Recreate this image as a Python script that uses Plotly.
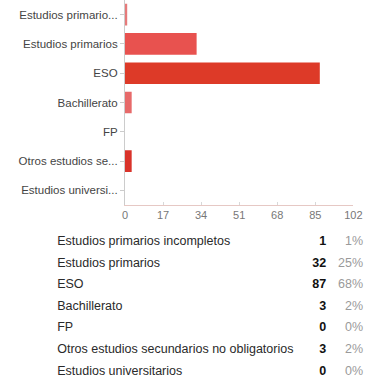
import plotly.graph_objects as go

# -----------------------------------------------------
# Data
# -----------------------------------------------------

categories = [
    "Estudios primarios incompletos",
    "Estudios primarios",
    "ESO",
    "Bachillerato",
    "FP",
    "Otros estudios secundarios no obligatorios",
    "Estudios universitarios",
]

tick_labels = [
    "Estudios primario...",
    "Estudios primarios",
    "ESO",
    "Bachillerato",
    "FP",
    "Otros estudios se...",
    "Estudios universi...",
]

counts = [1, 32, 87, 3, 0, 3, 0]
percents = ["1%", "25%", "68%", "2%", "0%", "2%", "0%"]

x_ticks = [0, 17, 34, 51, 68, 85, 102]

# -----------------------------------------------------
# Style
# -----------------------------------------------------

bar_colors = ["#e67a7a", "#e8524f", "#dd3a28", "#e76a6a", "#e0443a", "#d9332a", "#e05050"]
W, H = 374, 377
FONT = "Liberation Sans, Arial, sans-serif"

fig = go.Figure()

# Bars

fig.add_trace(
    go.Bar(
        x=counts,
        y=categories,
        orientation="h",
        marker=dict(color=bar_colors, line=dict(width=0)),
        xaxis="x",
        yaxis="y",
        hoverinfo="skip",
    )
)

# Summary table (labels, counts, percentages)

fig.add_trace(
    go.Scatter(
        x=[56] * len(categories),
        y=categories,
        text=categories,
        mode="text",
        textposition="middle right",
        textfont=dict(family=FONT, size=12.5, color="#2a2a2a"),
        xaxis="x2",
        yaxis="y2",
        hoverinfo="skip",
    )
)

fig.add_trace(
    go.Scatter(
        x=[334] * len(categories),
        y=categories,
        text=["<b>%d</b>" % c for c in counts],
        mode="text",
        textposition="middle left",
        textfont=dict(family=FONT, size=12.5, color="#111111"),
        xaxis="x2",
        yaxis="y2",
        hoverinfo="skip",
    )
)

fig.add_trace(
    go.Scatter(
        x=[372] * len(categories),
        y=categories,
        text=percents,
        mode="text",
        textposition="middle left",
        textfont=dict(family=FONT, size=12.5, color="#9a9a9a"),
        xaxis="x2",
        yaxis="y2",
        hoverinfo="skip",
    )
)

# -----------------------------------------------------
# Layout
# -----------------------------------------------------

fig.update_layout(
    width=W,
    height=H,
    margin=dict(l=0, r=0, t=0, b=0),
    paper_bgcolor="white",
    plot_bgcolor="white",
    showlegend=False,
    bargap=0.26,
    xaxis=dict(
        domain=[126 / W, 362 / W],
        range=[0, 102],
        tickvals=x_ticks,
        ticktext=[str(t) for t in x_ticks],
        showgrid=False,
        zeroline=False,
        showline=True,
        linecolor="#e6c8c4",
        linewidth=1,
        ticks="inside",
        ticklen=3,
        tickcolor="#d8d8d8",
        tickfont=dict(family=FONT, size=11, color="#777777"),
        anchor="y",
    ),
    yaxis=dict(
        domain=[1 - 205 / H, 1],
        categoryorder="array",
        categoryarray=categories,
        tickvals=categories,
        ticktext=tick_labels,
        autorange="reversed",
        showgrid=False,
        showline=True,
        linecolor="#cccccc",
        linewidth=1,
        ticks="outside",
        ticklen=4,
        tickcolor="#cccccc",
        tickfont=dict(family=FONT, size=11.5, color="#444444"),
        anchor="x",
    ),
    xaxis2=dict(
        domain=[0, 1],
        range=[0, W],
        visible=False,
        anchor="y2",
    ),
    yaxis2=dict(
        domain=[0, 1 - 231 / H],
        categoryorder="array",
        categoryarray=categories,
        range=[-0.5 + 146 / 21.6, -0.5],
        visible=False,
        anchor="x2",
    ),
)

fig.write_html(
    "out.html",
    config={"displayModeBar": False},
    post_script="document.body.style.margin='0';document.body.style.overflow='hidden';",
)
